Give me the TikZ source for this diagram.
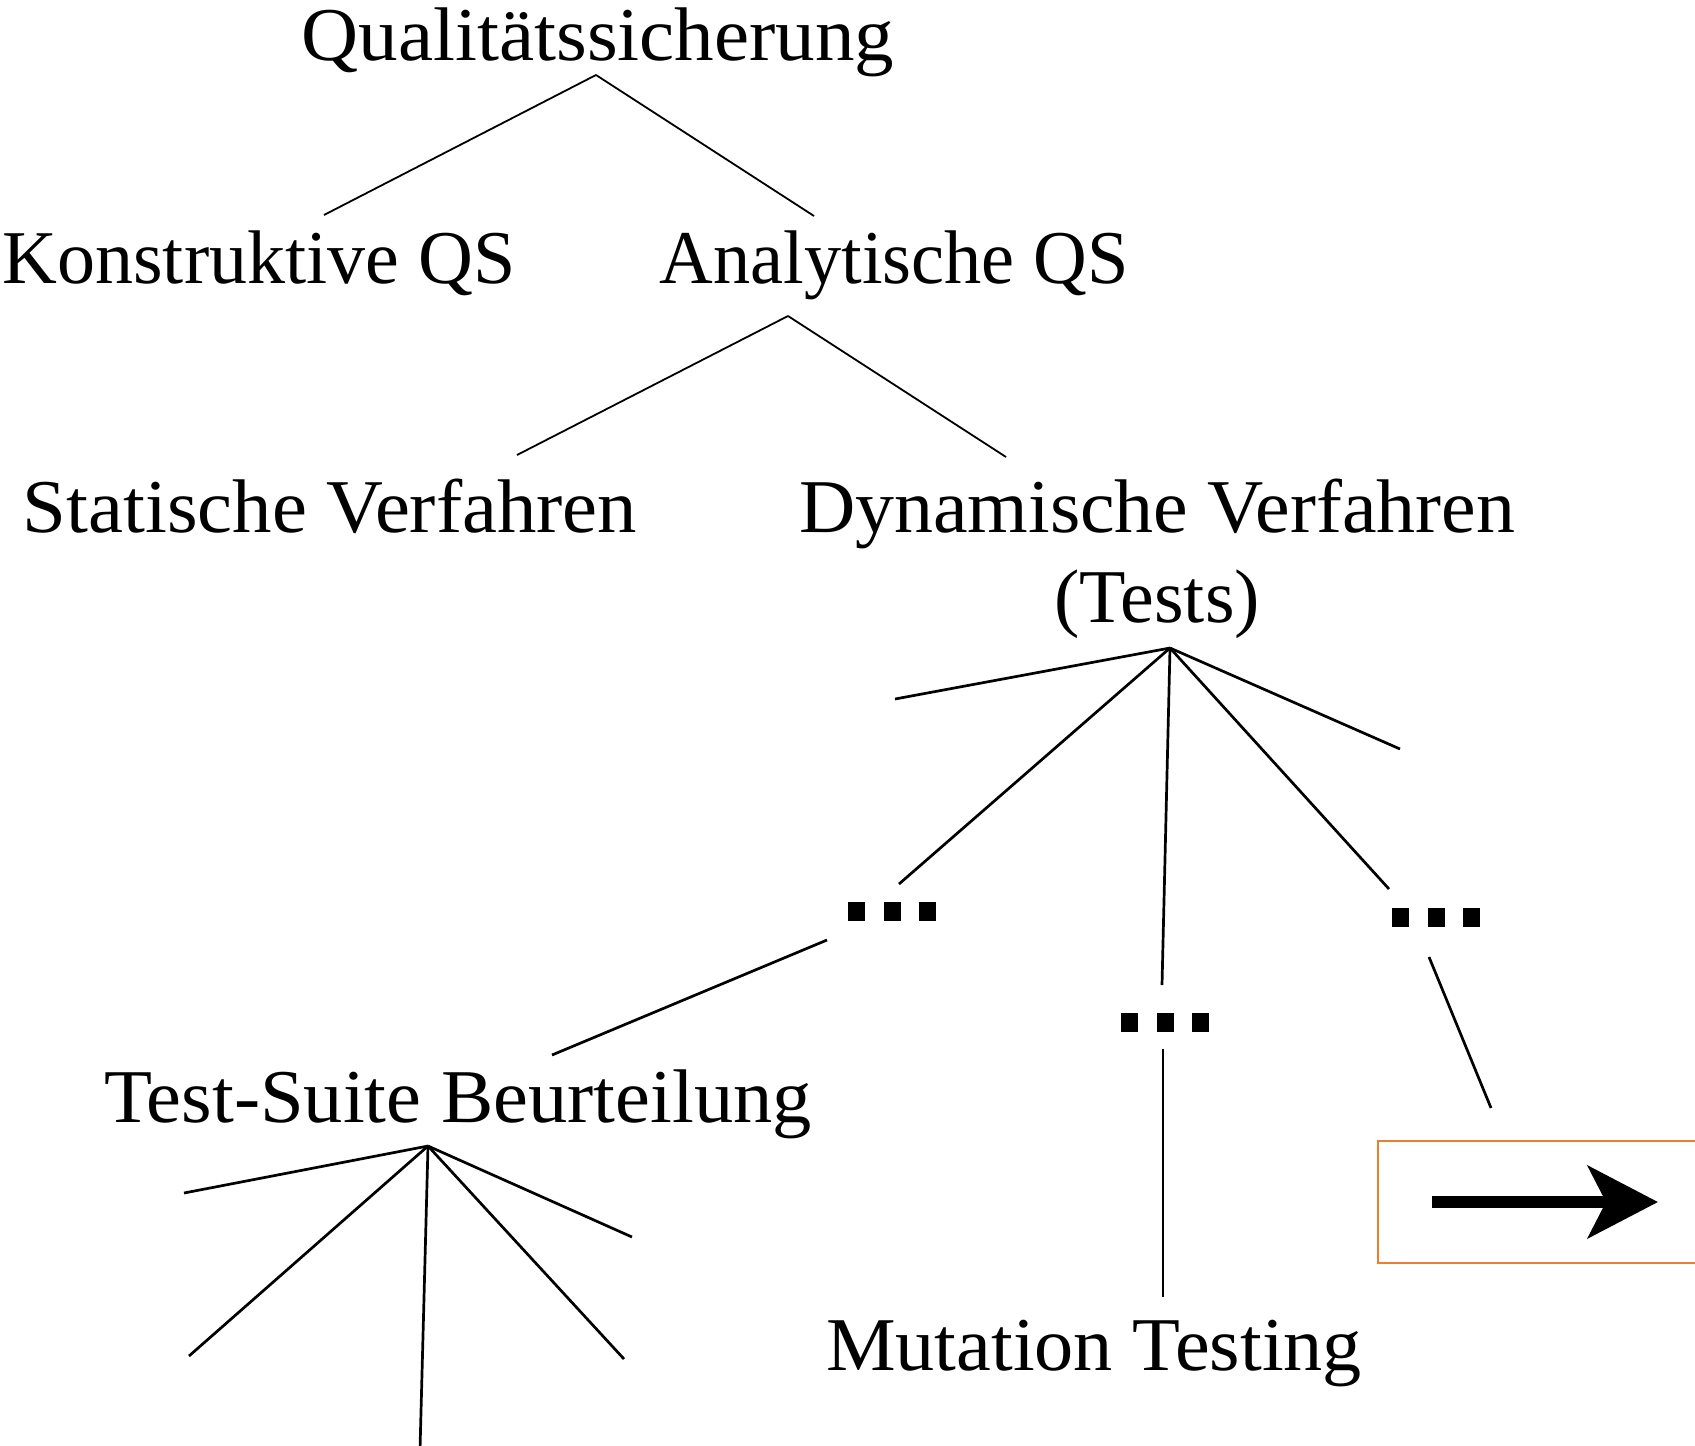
\documentclass[tikz,border=0pt]{standalone}
\usepackage{fontspec}
\setmainfont{Liberation Serif}
\usetikzlibrary{arrows.meta}
\definecolor{boxorange}{RGB}{237,125,49}
\tikzset{
  lbl/.style={inner sep=0pt, anchor=base, font=\fontsize{38}{46}\selectfont},
  thinedge/.style={line width=0.9pt, black},
  thickedge/.style={line width=1.35pt, black},
  dotsnode/.style={inner sep=0pt},
  orangebox/.style={draw=boxorange, line width=0.8pt, minimum width=171pt, minimum height=61pt, inner sep=0pt}
}
\newcommand{\sqdots}{\rule{8.5pt}{9.5pt}\hspace{9.3pt}\rule{8.5pt}{9.5pt}\hspace{9.3pt}\rule{8.5pt}{9.5pt}}
\newcommand{\hs}[2]{\scalebox{#1}[1]{#2}}
\begin{document}
\begin{tikzpicture}[x=0.5pt,y=-0.5pt]
\useasboundingbox (0,0) rectangle (1695,1445);
% texts
\node[lbl] (qs) at (598,61) {\hs{1.04}{Qualitätssicherung}};
\node[lbl] (kqs) at (259,283) {Konstruktive QS};
\node[lbl] (aqs) at (894,283) {\hs{0.978}{Analytische QS}};
\node[lbl] (stat) at (330,532) {\hs{1.036}{Statische Verfahren}};
\node[lbl] (dyn) at (1157,532) {\hs{1.025}{Dynamische Verfahren}};
\node[lbl] (tests) at (1157,622) {(Tests)};
\node[lbl] (tsb) at (458,1122) {\hs{1.033}{Test-Suite Beurteilung}};
\node[lbl] (mut) at (1094,1370) {\hs{1.03}{Mutation Testing}};
% dots
\node[dotsnode] (d1) at (892,911) {\sqdots};
\node[dotsnode] (d2) at (1436,917) {\sqdots};
\node[dotsnode] (d3) at (1165,1022) {\sqdots};
% coordinates
\coordinate (h0) at (596,75);
\coordinate (a1) at (324,215);
\coordinate (a2) at (814,216);
\coordinate (h1) at (788,316);
\coordinate (b1) at (517,455);
\coordinate (b2) at (1006,457);
\coordinate (h2) at (1170,648);
\coordinate (c1) at (895,699);
\coordinate (c2) at (899,884);
\coordinate (c3) at (1162,985);
\coordinate (c4) at (1389,889);
\coordinate (c5) at (1400,749);
\coordinate (e1s) at (827,940);
\coordinate (e1e) at (552,1055);
\coordinate (e3s) at (1163,1049);
\coordinate (e3e) at (1163,1297);
\coordinate (e2s) at (1429,957);
\coordinate (e2e) at (1491,1108);
\coordinate (h3) at (428,1146);
\coordinate (f1) at (184,1193);
\coordinate (f2) at (189,1356);
\coordinate (f3) at (420,1450);
\coordinate (f4) at (624,1359);
\coordinate (f5) at (632,1237);
% lines
\draw[thinedge] (h0) -- (a1);
\draw[thinedge] (h0) -- (a2);
\draw[thinedge] (h1) -- (b1);
\draw[thinedge] (h1) -- (b2);
\draw[thickedge] (h2) -- (c1);
\draw[thickedge] (h2) -- (c2);
\draw[thickedge] (h2) -- (c3);
\draw[thickedge] (h2) -- (c4);
\draw[thickedge] (h2) -- (c5);
\draw[thickedge] (e1s) -- (e1e);
\draw[thickedge] (e3s) -- (e3e);
\draw[thickedge] (e2s) -- (e2e);
\draw[thickedge] (h3) -- (f1);
\draw[thickedge] (h3) -- (f2);
\draw[thickedge] (h3) -- (f3);
\draw[thickedge] (h3) -- (f4);
\draw[thickedge] (h3) -- (f5);
% orange box with arrow
\node[orangebox] (box) at (1549,1202) {};
\coordinate (arrS) at (1432,1202);
\coordinate (arrE) at (1658,1202);
\draw[line width=6pt, -{Stealth[length=35pt, width=36pt, inset=9pt]}] (arrS) -- (arrE);
\end{tikzpicture}
\end{document}
